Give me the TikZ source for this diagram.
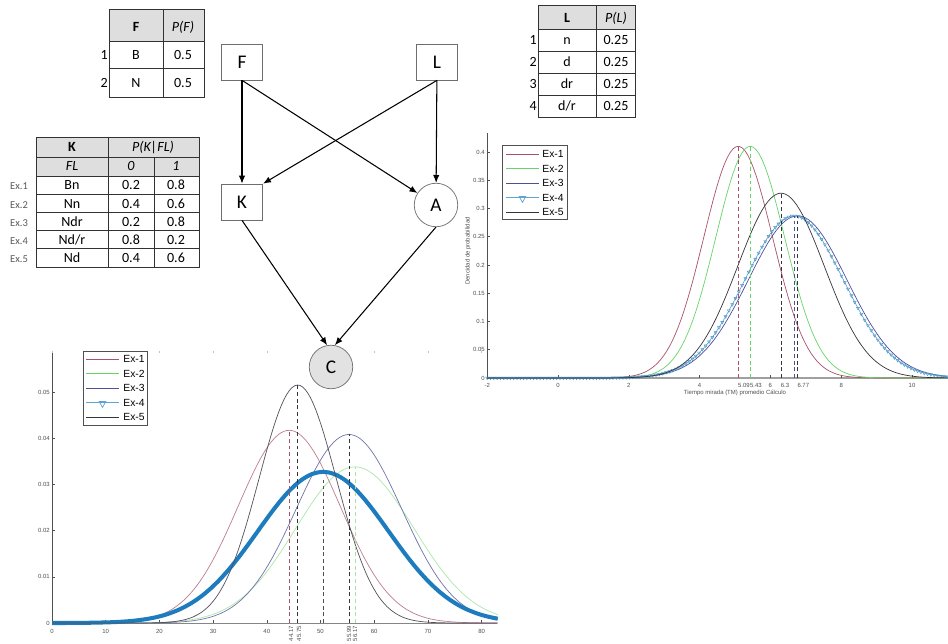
\documentclass[tikz,border=0pt]{standalone}
\usepackage{fontspec}
\setmainfont{Carlito}
\newfontfamily\plotfont{Liberation Sans}
\usetikzlibrary{arrows.meta, plotmarks}

\definecolor{exone}{RGB}{168,82,104}
\definecolor{extwo}{RGB}{104,212,104}
\definecolor{exthree}{RGB}{78,80,150}
\definecolor{exfour}{RGB}{28,124,190}
\definecolor{exfive}{RGB}{52,52,62}
\definecolor{hdrgray}{RGB}{222,222,222}
\definecolor{tabline}{RGB}{50,50,50}
\definecolor{nodeline}{RGB}{110,110,110}
\definecolor{nodefill}{RGB}{226,226,226}
\definecolor{axgray}{RGB}{80,80,80}
\definecolor{labgray}{RGB}{90,90,90}

\begin{document}
\begin{tikzpicture}[x=0.02cm, y=-0.02cm,
    declare function={dens(\z,\mn,\sd,\pk)=\pk*exp(-((\z-\mn)^2)/(2*\sd*\sd));},
    var/.style    = {draw=nodeline, minimum width=8.3mm, minimum height=7.2mm,
                     inner sep=0pt, font=\fontsize{11}{13}\selectfont},
    cvar/.style   = {var, circle, minimum size=8.7mm},
    arr/.style    = {-{Latex[length=4.5pt, width=3.6pt]}, semithick},
    tab/.style    = {draw=tabline, line width=0.5pt},
    cell/.style   = {inner sep=0pt, text height=1.5ex, text depth=0.35ex,
                     font=\fontsize{8}{10}\selectfont},
    rowlbl/.style = {cell, anchor=east},
    exlbl/.style  = {cell, text=labgray, font=\fontsize{6}{7}\selectfont},
    tlbl/.style   = {inner sep=0pt, text=axgray, font=\plotfont\fontsize{3.4}{4}\selectfont},
    leg/.style    = {inner sep=0pt, anchor=west, font=\plotfont\fontsize{5.9}{7}\selectfont},
    mean/.style   = {dash pattern=on 2.2pt off 1.6pt, line width=0.35pt},
    curve/.style  = {line width=0.4pt},
    axis/.style   = {axgray, line width=0.3pt}]
  \fill[white] (0,0) rectangle (948,644);
  \useasboundingbox (0,0) rectangle (948,644);

  % prior of F
  \fill[hdrgray] (109,9) rectangle (204,41);
  \draw[tab] (109,9) rectangle (204,97) (163,9) -- (163,97) (109,41) -- (204,41) (109,68.5) -- (204,68.5);
  \node[cell] (fhead)  at (136,27) {\textbf{F}};
  \node[cell] (fphead) at (183,27) {\textit{P(F)}};
  \foreach \v [count=\i] in {B,N} {
    \node[cell]   (fv\i) at (136,{41+27.8*(\i-0.5)}) {\v};
    \node[cell]   (fp\i) at (183,{41+27.8*(\i-0.5)}) {0.5};
    \node[rowlbl] (fn\i) at (108,{41+27.8*(\i-0.5)}) {\i};
  }

  % prior of L
  \fill[hdrgray] (538,5) rectangle (635,29);
  \draw[tab] (538,5) rectangle (635,117) (596,5) -- (596,117);
  \foreach \y in {29,51,73,95} \draw[tab] (538,\y) -- (635,\y);
  \node[cell] (lhead)  at (567,18) {\textbf{L}};
  \node[cell] (lphead) at (616,18) {\textit{P(L)}};
  \foreach \v [count=\i] in {n,d,dr,d/r} {
    \node[cell]   (lv\i) at (567,{29+22*(\i-0.5)}) {\v};
    \node[cell]   (lp\i) at (616,{29+22*(\i-0.5)}) {0.25};
    \node[rowlbl] (ln\i) at (537,{29+22*(\i-0.5)}) {\i};
  }

  % conditional table of K
  \fill[hdrgray] (36,137) rectangle (199,176);
  \draw[tab] (36,137) rectangle (199,267) (108,137) -- (108,267) (154,157) -- (154,267);
  \foreach \y in {157,176,194.2,212.4,230.6,248.8} \draw[tab] (36,\y) -- (199,\y);
  \node[cell] (khead)  at (72,147)  {\textbf{K}};
  \node[cell] (kphead) at (153,147) {\textit{P(K|FL)}};
  \node[cell] (kfl)    at (72,166)  {\textit{FL}};
  \node[cell] (kzero)  at (131,166) {\textit{0}};
  \node[cell] (kone)   at (176,166) {\textit{1}};
  \foreach \e/\fl/\a/\b [count=\i] in {Ex.1/Bn/0.2/0.8, Ex.2/Nn/0.4/0.6, Ex.3/Ndr/0.2/0.8,
                                       Ex.4/{Nd/r}/0.8/0.2, Ex.5/Nd/0.4/0.6} {
    \node[exlbl] (ke\i) at (19,{176+18.2*(\i-0.5)})  {\e};
    \node[cell]  (kf\i) at (72,{176+18.2*(\i-0.5)})  {\fl};
    \node[cell]  (ka\i) at (131,{176+18.2*(\i-0.5)}) {\a};
    \node[cell]  (kb\i) at (176,{176+18.2*(\i-0.5)}) {\b};
  }

  % right plot: densities of the viewing time
  \draw[axgray!55, line width=1pt] (487,378) -- (948,378);
  \draw[axis] (487,378) -- (487,133);
  \foreach \p [count=\i] in {0,0.05,0.1,0.15,0.2,0.25,0.3,0.35,0.4} {
    \draw[axis] (487,{378-565*\p}) -- (490,{378-565*\p});
    \node[tlbl, anchor=east] (ry\i) at (485,{378-565*\p}) {\p};
  }
  \foreach \t [count=\i] in {-2,0,2,4,6,8,10} {
    \draw[axis] ({558+35.4*\t},378) -- ({558+35.4*\t},375);
    \node[tlbl] (rx\i) at ({558+35.4*\t},385) {\t};
  }
  \foreach \t [count=\i] in {5.09,5.43,6.3,6.77} {
    \draw[axis] ({558+35.4*\t},378) -- ({558+35.4*\t},375);
    \node[tlbl, anchor=west] (rm\i) at ({558+35.4*\t-0.5},385) {\t};
  }
  \node[tlbl] (rxlab) at (735,393) {Tiempo mirada (TM) promedio Cálculo};
  \node[tlbl, rotate=90] (rylab) at (468,251) {Dencidad de probabilidad};
  \draw[exone, curve]   plot[domain=-2:11, samples=160] ({558+35.4*\x},{378-565*dens(\x,5.09,0.973,0.41)});
  \draw[extwo, curve]   plot[domain=-2:11, samples=160] ({558+35.4*\x},{378-565*dens(\x,5.43,0.973,0.41)});
  \draw[exthree, curve] plot[domain=-2:11, samples=160] ({558+35.4*\x},{378-565*dens(\x,6.77,1.39,0.287)});
  \draw[exfour!80, line width=0.3pt] plot[domain=-2:11, samples=140, mark=triangle, mark size=1pt,
        mark options={rotate=180, exfour!80, line width=0.25pt}] ({558+35.4*\x},{378-565*dens(\x,6.67,1.39,0.287)});
  \draw[exfive, curve]  plot[domain=-2:11, samples=160] ({558+35.4*\x},{378-565*dens(\x,6.3,1.22,0.327)});
  \foreach \m/\h/\c in {5.09/0.41/exone, 5.43/0.41/extwo, 6.3/0.327/exfive, 6.67/0.287/exthree, 6.77/0.287/exfive}
    \draw[\c, mean] ({558+35.4*\m},378) -- ({558+35.4*\m},{378-565*\h});
  \draw[axgray, fill=white, line width=0.5pt] (502,145) rectangle (567,219);
  \foreach \c/\n [count=\i] in {exone/Ex-1, extwo/Ex-2, exthree/Ex-3, exfour!70/Ex-4, exfive/Ex-5} {
    \draw[\c, curve] (506,{154+14.5*(\i-1)}) -- (539,{154+14.5*(\i-1)});
    \node[leg] (rl\i) at (542,{154+14.5*(\i-1)}) {\n};
  }
  \draw[exfour!70] plot[only marks, mark=triangle, mark size=2.2pt, mark options={rotate=180, line width=0.4pt}]
    coordinates {(522.5,198.5)};

  % bottom plot: densities of C
  \draw[axgray!70, line width=0.5pt] (52,623) -- (497,623);
  \draw[axis] (52,623) -- (52,351);
  \foreach \t in {0,...,8}
    \draw[axgray!35, line width=0.3pt] ({52+53.7*\t},351) -- ({52+53.7*\t},353);
  \foreach \p [count=\i] in {0,0.01,0.02,0.03,0.04,0.05} {
    \draw[axis] (52,{623-4620*\p}) -- (55,{623-4620*\p});
    \node[tlbl, anchor=east] (by\i) at (50,{623-4620*\p}) {\p};
  }
  \foreach \t [count=\i] in {0,10,...,80} {
    \draw[axis] ({52+5.37*\t},623) -- ({52+5.37*\t},620);
    \node[tlbl] (bx\i) at ({52+5.37*\t},631) {\t};
  }
  \foreach \px/\l [count=\i] in {291/44.17, 299/45.75, 349/55.99, 355/56.17}
    \node[tlbl, rotate=90, anchor=east] (bm\i) at (\px,626) {\l};
  \draw[exone!75, curve]   plot[domain=0:83, samples=170] ({52+5.37*\x},{623-4620*dens(\x,44.17,9.5,0.0417)});
  \draw[extwo!55, curve]   plot[domain=0:83, samples=170] ({52+5.37*\x},{623-4620*dens(\x,56.4,11,0.0338)});
  \draw[exthree!80, curve] plot[domain=0:83, samples=170] ({52+5.37*\x},{623-4620*dens(\x,55.3,9.8,0.0408)});
  \draw[exfour, line width=2.3pt] plot[domain=0:83, samples=170] ({52+5.37*\x},{623-4620*dens(\x,50.5,12.2,0.0327)});
  \draw[exfive!85, curve]  plot[domain=0:83, samples=170] ({52+5.37*\x},{623-4620*dens(\x,45.75,7.2,0.0515)});
  \foreach \m/\h/\c in {44.17/0.0417/exone, 45.75/0.0515/exfive, 50.5/0.031/axgray, 55.3/0.0408/exfive, 56.4/0.0338/extwo!60}
    \draw[\c, mean] ({52+5.37*\m},623) -- ({52+5.37*\m},{623-4620*\h});
  \draw[axgray, fill=white, line width=0.5pt] (83,351) rectangle (147,425);
  \foreach \c/\n [count=\i] in {exone/Ex-1, extwo/Ex-2, exthree/Ex-3, exfour!70/Ex-4, exfive/Ex-5} {
    \draw[\c, curve] (86,{359+14.5*(\i-1)}) -- (119,{359+14.5*(\i-1)});
    \node[leg] (bl\i) at (123,{359+14.5*(\i-1)}) {\n};
  }
  \draw[exfour!70] plot[only marks, mark=triangle, mark size=2.2pt, mark options={rotate=180, line width=0.4pt}]
    coordinates {(102.5,403.5)};

  % the network
  \node[var]  (F) at (242,62)  {F};
  \node[var]  (L) at (437,62)  {L};
  \node[var]  (K) at (242,202) {K};
  \node[cvar] (A) at (436,205) {A};
  \node[cvar, fill=nodefill] (C) at (331,367) {C};
  \draw[arr] (F) -- (K);
  \draw[arr] (F.south) -- (A);
  \draw[arr] (L.south) -- (K.north east);
  \draw[arr] (L) -- (A);
  \draw[arr] (K.south) -- (C.100);
  \draw[arr] (A.south) -- (C.80);
\end{tikzpicture}
\end{document}
